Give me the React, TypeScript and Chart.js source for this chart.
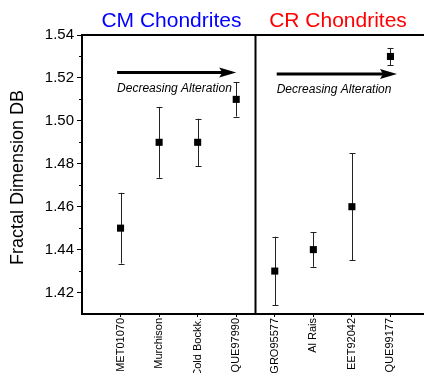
import React, { useEffect, useRef } from "react";
import { Chart, registerables } from "chart.js";

Chart.register(...registerables);

const categories = ["MET01070", "Murchison", "Cold Bockk.", "QUE97990", "GRO95577", "Al Rais", "EET92042", "QUE99177"];
const values = [1.45, 1.49, 1.49, 1.51, 1.43, 1.44, 1.46, 1.53];
const errors = [0.0165, 0.0165, 0.011, 0.008, 0.016, 0.008, 0.025, 0.004];
const yTicks = [1.42, 1.44, 1.46, 1.48, 1.5, 1.52, 1.54];
const yMinorTicks = [1.43, 1.45, 1.47, 1.49, 1.51, 1.53];
const groupTitles = ["CM Chondrites", "CR Chondrites"];
const groupColors = ["#0000ff", "#ff0000"];
const annotationText = "Decreasing Alteration";
const yTitle = "Fractal Dimension DB";

const FONT = "'Liberation Sans', Arial, sans-serif";

const decorPlugin = {
  id: "decor",
  beforeDatasetsDraw(chart: any) {
    const { ctx } = chart;
    const x = chart.scales.x;
    const y = chart.scales.y;
    ctx.save();
    ctx.strokeStyle = "#222";
    ctx.lineWidth = 1;
    values.forEach((v, i) => {
      const px = Math.round(x.getPixelForValue(i + 1)) + 0.5;
      const top = y.getPixelForValue(v + errors[i]);
      const bot = y.getPixelForValue(v - errors[i]);
      ctx.beginPath();
      ctx.moveTo(px, top);
      ctx.lineTo(px, bot);
      ctx.moveTo(px - 3, Math.round(top) + 0.5);
      ctx.lineTo(px + 3, Math.round(top) + 0.5);
      ctx.moveTo(px - 3, Math.round(bot) + 0.5);
      ctx.lineTo(px + 3, Math.round(bot) + 0.5);
      ctx.stroke();
    });
    ctx.restore();
  },
  afterDraw(chart: any) {
    const { ctx, chartArea } = chart;
    const x = chart.scales.x;
    const y = chart.scales.y;
    ctx.save();
    // frame
    ctx.strokeStyle = "#000";
    ctx.lineWidth = 2;
    ctx.beginPath();
    ctx.moveTo(chartArea.left, chartArea.top);
    ctx.lineTo(chartArea.right, chartArea.top);
    ctx.lineTo(chartArea.right, chartArea.bottom);
    ctx.lineTo(chartArea.left, chartArea.bottom);
    ctx.closePath();
    const dx = x.getPixelForValue(4.5);
    ctx.moveTo(dx, chartArea.top);
    ctx.lineTo(dx, chartArea.bottom);
    ctx.stroke();
    // minor ticks
    ctx.lineWidth = 1;
    ctx.beginPath();
    yMinorTicks.forEach((v) => {
      const py = Math.round(y.getPixelForValue(v)) + 0.5;
      ctx.moveTo(chartArea.left - 3, py);
      ctx.lineTo(chartArea.left, py);
    });
    ctx.stroke();
    // arrows
    const arrows = [
      { x0: 0.91, x1: 4.0, yv: 1.5225 },
      { x0: 5.05, x1: 8.17, yv: 1.5218 },
    ];
    arrows.forEach((a) => {
      const sx = x.getPixelForValue(a.x0);
      const ex = x.getPixelForValue(a.x1);
      const py = y.getPixelForValue(a.yv);
      ctx.strokeStyle = "#000";
      ctx.fillStyle = "#000";
      ctx.lineWidth = 3;
      ctx.beginPath();
      ctx.moveTo(sx, py);
      ctx.lineTo(ex - 12, py);
      ctx.stroke();
      ctx.beginPath();
      ctx.moveTo(ex, py);
      ctx.lineTo(ex - 17, py - 5);
      ctx.lineTo(ex - 14, py);
      ctx.lineTo(ex - 17, py + 5);
      ctx.closePath();
      ctx.fill();
      ctx.font = `italic 12px ${FONT}`;
      ctx.textAlign = "left";
      ctx.textBaseline = "middle";
      ctx.fillText(annotationText, sx, py + 16);
    });
    // group titles
    const titleX = [2.32, 6.64];
    ctx.font = `21px ${FONT}`;
    ctx.textAlign = "center";
    ctx.textBaseline = "middle";
    groupTitles.forEach((t, i) => {
      ctx.fillStyle = groupColors[i];
      ctx.fillText(t, x.getPixelForValue(titleX[i]), chartArea.top - 14);
    });
    // y title
    ctx.fillStyle = "#000";
    ctx.font = `18px ${FONT}`;
    ctx.translate(18, (chartArea.top + chartArea.bottom) / 2 + 3);
    ctx.rotate(-Math.PI / 2);
    ctx.fillText(yTitle, 0, 0);
    ctx.restore();
  },
};

export default function App() {
  const ref = useRef<HTMLCanvasElement | null>(null);
  useEffect(() => {
    if (!ref.current) return;
    const chart = new Chart(ref.current, {
      type: "scatter",
      data: {
        datasets: [
          {
            data: values.map((v, i) => ({ x: i + 1, y: v })),
            pointStyle: "rect",
            pointRadius: 5,
            backgroundColor: "#000",
            borderColor: "#000",
            borderWidth: 0,
          },
        ],
      },
      options: {
        animation: false,
        responsive: false,
        layout: { padding: { top: 35, right: 11, left: 0, bottom: 0 } },
        plugins: { legend: { display: false }, tooltip: { enabled: false }, title: { display: false } },
        scales: {
          x: {
            type: "linear",
            min: 0,
            max: 9,
            afterBuildTicks: (scale: any) => {
              scale.ticks = categories.map((_, i) => ({ value: i + 1 }));
            },
            afterFit: (scale: any) => {
              scale.height = 59;
            },
            border: { display: false },
            grid: { display: true, drawOnChartArea: false, drawTicks: true, tickLength: 3, color: "#000" },
            ticks: {
              autoSkip: false,
              minRotation: 90,
              maxRotation: 90,
              padding: 1,
              color: "#000",
              font: { family: FONT, size: 11 },
              callback: (v: any) => categories[Number(v) - 1] ?? "",
            },
          },
          y: {
            type: "linear",
            min: 1.41,
            max: 1.54,
            afterBuildTicks: (scale: any) => {
              scale.ticks = yTicks.map((v) => ({ value: v }));
            },
            afterFit: (scale: any) => {
              scale.width = 82;
            },
            border: { display: false },
            grid: { display: true, drawOnChartArea: false, drawTicks: true, tickLength: 5, color: "#000" },
            ticks: {
              padding: 3,
              color: "#000",
              font: { family: FONT, size: 15 },
              callback: (v: any) => Number(v).toFixed(2),
            },
          },
        },
      },
      plugins: [decorPlugin],
    } as any);
    return () => chart.destroy();
  }, []);
  return (
    <div style={{ position: "absolute", left: 0, top: 0, width: 424, height: 373, overflow: "hidden", background: "#fff" }}>
      <canvas ref={ref} width={440} height={373} style={{ display: "block", width: 440, height: 373 }} />
    </div>
  );
}
